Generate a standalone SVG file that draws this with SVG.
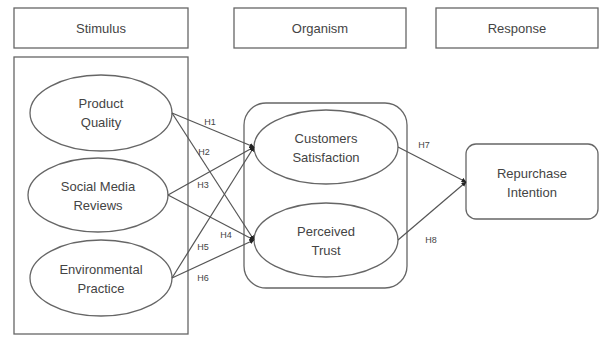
<svg xmlns="http://www.w3.org/2000/svg" width="600" height="347" viewBox="0 0 600 347">
<defs>
<style>
.box{fill:#fff;stroke:#666;stroke-width:1.3}
.ell{fill:#fff;stroke:#666;stroke-width:1.3}
.t{font-family:"Liberation Sans",Arial,sans-serif;font-size:13px;fill:#444;text-anchor:middle}
.h{font-family:"Liberation Sans",Arial,sans-serif;font-size:9px;fill:#444;text-anchor:middle}
.c{stroke:#555;stroke-width:1.2;fill:none;marker-end:url(#ah)}
</style>
<marker id="ah" viewBox="0 0 10 10" refX="9" refY="5" markerWidth="5" markerHeight="5" orient="auto" markerUnits="userSpaceOnUse">
<path d="M0,0L10,5L0,10z" fill="#222"/>
</marker>
</defs>
<rect width="600" height="347" fill="#fff"/>
<g id="stimulus-header"><rect class="box" x="14" y="8" width="174" height="40"/><text class="t" x="101" y="33">Stimulus</text></g>
<g id="organism-header"><rect class="box" x="234" y="8" width="172" height="40"/><text class="t" x="320" y="33">Organism</text></g>
<g id="response-header"><rect class="box" x="436" y="8" width="162" height="40"/><text class="t" x="517" y="33">Response</text></g>
<g id="stimulus-group"><rect class="box" x="14" y="57" width="174" height="277"/></g>
<g id="organism-group"><rect class="box" x="244" y="103" width="163" height="185" rx="22"/></g>
<g id="product-quality"><ellipse class="ell" cx="101" cy="113" rx="71" ry="38"/><text class="t" x="101" y="108">Product</text><text class="t" x="101" y="127">Quality</text></g>
<g id="social-media-reviews"><ellipse class="ell" cx="98" cy="195" rx="70" ry="37"/><text class="t" x="98" y="191">Social Media</text><text class="t" x="98" y="210">Reviews</text></g>
<g id="environmental-practice"><ellipse class="ell" cx="101" cy="278" rx="71" ry="38"/><text class="t" x="101" y="274">Environmental</text><text class="t" x="101" y="293">Practice</text></g>
<g id="customers-satisfaction"><ellipse class="ell" cx="326" cy="147" rx="72" ry="37"/><text class="t" x="326" y="143">Customers</text><text class="t" x="326" y="162">Satisfaction</text></g>
<g id="perceived-trust"><ellipse class="ell" cx="326" cy="240" rx="72" ry="37"/><text class="t" x="326" y="236">Perceived</text><text class="t" x="326" y="255">Trust</text></g>
<g id="repurchase-intention"><rect class="box" x="466" y="144" width="132" height="75" rx="10"/><text class="t" x="532" y="178">Repurchase</text><text class="t" x="532" y="197">Intention</text></g>
<g id="connectors">
<line class="c" x1="172" y1="113" x2="254" y2="147"/>
<line class="c" x1="172" y1="113" x2="254" y2="240"/>
<line class="c" x1="168" y1="195" x2="254" y2="147"/>
<line class="c" x1="168" y1="195" x2="254" y2="240"/>
<line class="c" x1="172" y1="278" x2="254" y2="147"/>
<line class="c" x1="172" y1="278" x2="254" y2="240"/>
<line class="c" x1="398" y1="147" x2="466" y2="182"/>
<line class="c" x1="398" y1="240" x2="466" y2="182"/>
<text class="h" x="210" y="125">H1</text>
<text class="h" x="204" y="155">H2</text>
<text class="h" x="203" y="188">H3</text>
<text class="h" x="226" y="238">H4</text>
<text class="h" x="203" y="250">H5</text>
<text class="h" x="203" y="281">H6</text>
<text class="h" x="424" y="148">H7</text>
<text class="h" x="431" y="243">H8</text>
</g>
</svg>
